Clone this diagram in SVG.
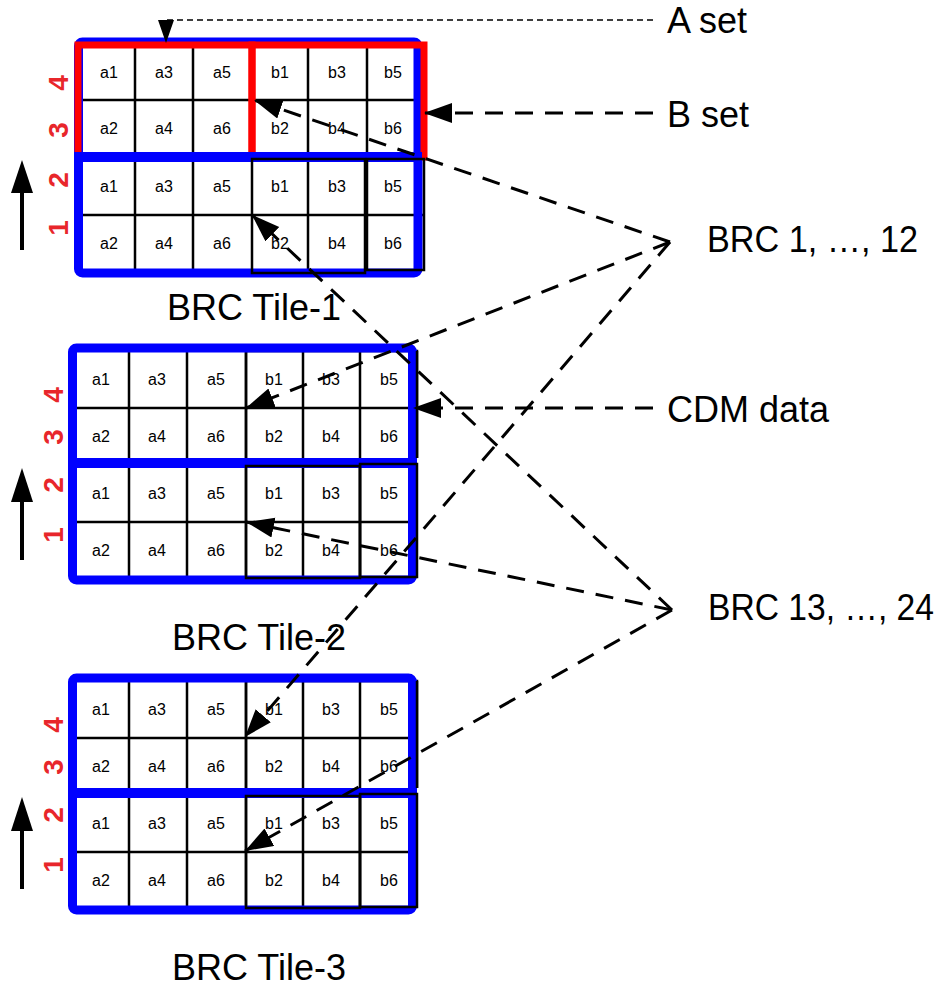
<svg xmlns="http://www.w3.org/2000/svg" width="949" height="989" viewBox="0 0 949 989">
  <style>
    .blue { fill: none; stroke: #0000ff; stroke-width: 9; }
    .blueline { stroke: #0000ff; stroke-width: 10; }
    .red { fill: none; stroke: #ff0000; stroke-width: 7; }
    .grid { fill: none; stroke: #000; stroke-width: 2.5; }
    .cell { font-family: "Liberation Sans", Arial, sans-serif; font-size: 16px; text-anchor: middle; fill: #000; }
    .rownum { font-family: "Liberation Sans", Arial, sans-serif; font-size: 28px; font-weight: bold; text-anchor: middle; fill: #e8262b; }
    .label { font-family: "Liberation Sans", Arial, sans-serif; font-size: 36px; fill: #000; }
    .dash { fill: none; stroke: #000; stroke-width: 3; stroke-dasharray: 18 12; }
    .thin { fill: none; stroke: #000; stroke-width: 1.5; stroke-dasharray: 6 4; }
    .up { stroke: #000; stroke-width: 4; }
  </style>
  <defs>
    <marker id="ah" markerUnits="userSpaceOnUse" markerWidth="30" markerHeight="22" refX="28" refY="10" orient="auto">
      <path d="M0,0 L28,10 L0,20 Z" fill="#000"/>
    </marker>
  </defs>

  <rect width="949" height="989" fill="#fff"/>

  <!-- Tile 1 -->
  <g id="tile1">
    <rect x="78.5" y="42" width="339.5" height="231" rx="4" fill="#fff"/>
    <g class="grid">
      <path d="M135,46 V154 M193,46 V154 M308,46 V154 M367,46 V154 M80,100 H420"/>
      <path d="M135,160 V271 M193,160 V271 M308,159 V273 M80,215 H424"/>
    </g>
    <rect class="blue" x="78.5" y="42" width="339.5" height="231" rx="4"/>
    <rect class="red" x="78" y="45" width="174" height="112"/>
    <rect class="red" x="252" y="45" width="172" height="112"/>
    <path class="blueline" d="M74,157 H422"/>
    <rect class="grid" x="252" y="159" width="113" height="114"/>
    <rect class="grid" x="367" y="159" width="57" height="111"/>
    <g class="cell">
      <text x="109" y="78">a1</text><text x="164" y="78">a3</text><text x="222" y="78">a5</text>
      <text x="280" y="78">b1</text><text x="337" y="78">b3</text><text x="393" y="78">b5</text>
      <text x="109" y="134">a2</text><text x="164" y="134">a4</text><text x="222" y="134">a6</text>
      <text x="280" y="134">b2</text><text x="337" y="134">b4</text><text x="393" y="134">b6</text>
      <text x="109" y="192">a1</text><text x="164" y="192">a3</text><text x="222" y="192">a5</text>
      <text x="280" y="192">b1</text><text x="337" y="192">b3</text><text x="393" y="192">b5</text>
      <text x="109" y="249">a2</text><text x="164" y="249">a4</text><text x="222" y="249">a6</text>
      <text x="280" y="249">b2</text><text x="337" y="249">b4</text><text x="393" y="249">b6</text>
    </g>
    <g class="rownum">
      <text transform="translate(68,83) rotate(-90)">4</text>
      <text transform="translate(68,130) rotate(-90)">3</text>
      <text transform="translate(68,180) rotate(-90)">2</text>
      <text transform="translate(68,228) rotate(-90)">1</text>
    </g>
    <path class="up" d="M22,250 V188"/>
    <polygon points="22,160 11,193 33,193" fill="#000"/>
    <text class="label" x="167" y="320">BRC Tile-1</text>
  </g>

  <!-- Tile 2 -->
  <g id="tile2">
    <rect x="72.5" y="348" width="340" height="232" rx="4" fill="#fff"/>
    <g class="grid">
      <path d="M129,352 V577 M187,352 V577 M246,351 V578 M303,351 V578 M360,351 V578 M77,408 H417 M77,522 H417"/>
      <path d="M246,458 V351 H417 V458"/>
    </g>
    <rect class="blue" x="72.5" y="348" width="340" height="232" rx="4"/>
    <path class="blueline" d="M68,463 H417"/>
    <g class="grid">
      <rect x="246" y="466" width="114" height="112"/>
      <rect x="360" y="464" width="57" height="113"/>
      <path d="M417,351 V458"/>
    </g>
    <g class="cell">
      <text x="101" y="385">a1</text><text x="157" y="385">a3</text><text x="216" y="385">a5</text>
      <text x="274" y="385">b1</text><text x="331" y="385">b3</text><text x="389" y="385">b5</text>
      <text x="101" y="442">a2</text><text x="157" y="442">a4</text><text x="216" y="442">a6</text>
      <text x="274" y="442">b2</text><text x="331" y="442">b4</text><text x="389" y="442">b6</text>
      <text x="101" y="499">a1</text><text x="157" y="499">a3</text><text x="216" y="499">a5</text>
      <text x="274" y="499">b1</text><text x="331" y="499">b3</text><text x="389" y="499">b5</text>
      <text x="101" y="556">a2</text><text x="157" y="556">a4</text><text x="216" y="556">a6</text>
      <text x="274" y="556">b2</text><text x="331" y="556">b4</text><text x="389" y="556">b6</text>
    </g>
    <g class="rownum">
      <text transform="translate(63,395) rotate(-90)">4</text>
      <text transform="translate(63,437) rotate(-90)">3</text>
      <text transform="translate(63,485) rotate(-90)">2</text>
      <text transform="translate(63,535) rotate(-90)">1</text>
    </g>
    <path class="up" d="M22,560 V496"/>
    <polygon points="22,468 11,502 33,502" fill="#000"/>
    <text class="label" x="172" y="650">BRC Tile-2</text>
  </g>

  <!-- Tile 3 -->
  <g id="tile3" transform="translate(0,330)">
    <rect x="72.5" y="348" width="340" height="232" rx="4" fill="#fff"/>
    <g class="grid">
      <path d="M129,352 V577 M187,352 V577 M246,351 V578 M303,351 V578 M360,351 V578 M77,408 H417 M77,522 H417"/>
      <path d="M246,458 V351 H417 V458"/>
    </g>
    <rect class="blue" x="72.5" y="348" width="340" height="232" rx="4"/>
    <path class="blueline" d="M68,463 H417"/>
    <g class="grid">
      <rect x="246" y="466" width="114" height="112"/>
      <rect x="360" y="464" width="57" height="113"/>
      <path d="M417,351 V458"/>
    </g>
    <g class="cell">
      <text x="101" y="385">a1</text><text x="157" y="385">a3</text><text x="216" y="385">a5</text>
      <text x="274" y="385">b1</text><text x="331" y="385">b3</text><text x="389" y="385">b5</text>
      <text x="101" y="442">a2</text><text x="157" y="442">a4</text><text x="216" y="442">a6</text>
      <text x="274" y="442">b2</text><text x="331" y="442">b4</text><text x="389" y="442">b6</text>
      <text x="101" y="499">a1</text><text x="157" y="499">a3</text><text x="216" y="499">a5</text>
      <text x="274" y="499">b1</text><text x="331" y="499">b3</text><text x="389" y="499">b5</text>
      <text x="101" y="556">a2</text><text x="157" y="556">a4</text><text x="216" y="556">a6</text>
      <text x="274" y="556">b2</text><text x="331" y="556">b4</text><text x="389" y="556">b6</text>
    </g>
    <g class="rownum">
      <text transform="translate(63,395) rotate(-90)">4</text>
      <text transform="translate(63,437) rotate(-90)">3</text>
      <text transform="translate(63,485) rotate(-90)">2</text>
      <text transform="translate(63,535) rotate(-90)">1</text>
    </g>
    <path class="up" d="M22,559 V496"/>
    <polygon points="22,467 11,501 33,501" fill="#000"/>
    <text class="label" x="172" y="650">BRC Tile-3</text>
  </g>

  <!-- Legend labels -->
  <g id="labels">
    <text class="label" x="667" y="33">A set</text>
    <text class="label" x="667" y="127">B set</text>
    <text class="label" x="707" y="252" textLength="211" lengthAdjust="spacingAndGlyphs">BRC 1, …, 12</text>
    <text class="label" x="667" y="422">CDM data</text>
    <text class="label" x="708" y="620" textLength="226" lengthAdjust="spacingAndGlyphs">BRC 13, …, 24</text>
  </g>

  <!-- Connectors -->
  <g id="connectors">
    <path class="thin" d="M653,20 H166"/>
    <polygon points="158,20 174,20 166,43" fill="#000"/>
    <path class="dash" d="M653,113 H424" marker-end="url(#ah)"/>
    <path class="dash" d="M653,408 H413" marker-end="url(#ah)"/>
    <path class="dash" d="M670,242 L254,100" marker-end="url(#ah)"/>
    <path class="dash" d="M670,242 L246,408" marker-end="url(#ah)"/>
    <path class="dash" d="M670,242 L245,737" marker-end="url(#ah)"/>
    <path class="dash" d="M672,610 L252,215" marker-end="url(#ah)"/>
    <path class="dash" d="M672,610 L246,522" marker-end="url(#ah)"/>
    <path class="dash" d="M672,610 L245,851" marker-end="url(#ah)"/>
  </g>
</svg>
